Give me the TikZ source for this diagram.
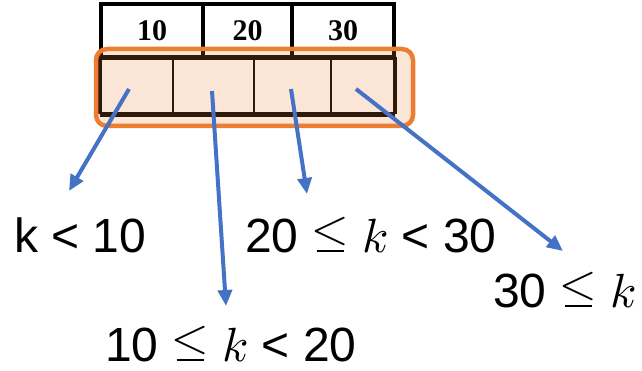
\documentclass[tikz,border=0pt]{standalone}
\usepackage{fontspec}
\usepackage{unicode-math}
\setmainfont{Liberation Sans}
\setmathfont{Latin Modern Math}
\newfontfamily\serifbold{Liberation Serif}
\usetikzlibrary{arrows.meta}
\definecolor{orng}{HTML}{ED7D31}
\definecolor{blu}{HTML}{4472C4}
\newcommand{\myle}{\mbox{\sbox0{$<$}\raisebox{0.17em}{\usebox0}\kern-\wd0\kern0.1em\rule{\dimexpr\wd0-0.2em\relax}{0.045em}\kern0.1em}}
\newcommand{\kk}{\ensuremath{k}}
\tikzset{
  topcell/.style={draw=black, line width=4.5pt, minimum height=54pt, inner sep=0pt, font=\serifbold\bfseries\fontsize{30}{30}\selectfont},
  botcell/.style={draw=black, line width=2.5pt, minimum height=55pt, inner sep=0pt},
  rng/.style={draw=orng, line width=4.5pt, rounded corners=11pt, fill=orng, fill opacity=0.2, draw opacity=1},
  ptr/.style={draw=blu, line width=4pt, -{Triangle[length=16pt,width=14pt]}},
  lbl/.style={font=\fontsize{48}{48}\selectfont, inner sep=0pt, anchor=base west}
}
\begin{document}
\begin{tikzpicture}[x=1pt,y=-1pt]
\useasboundingbox (0,0) rectangle (642,371);
% top row
\node[topcell, minimum width=102pt] (t1) at (152,31) {10};
\node[topcell, minimum width=89pt] (t2) at (247.5,31) {20};
\node[topcell, minimum width=102pt] (t3) at (343,31) {30};
% bottom row
\node[botcell, minimum width=72pt] (b1) at (137,85.5) {};
\node[botcell, minimum width=81pt] (b2) at (213.5,85.5) {};
\node[botcell, minimum width=77pt] (b3) at (292.5,85.5) {};
\node[botcell, minimum width=63pt] (b4) at (362.5,85.5) {};
\draw[line width=4pt] (b1.north west) -- (b4.north east);
\draw[line width=5pt] (b1.south west) -- (b4.south east);
\draw[line width=4pt] (b1.north west) -- (b1.south west);
\draw[line width=4pt] (b4.north east) -- (b4.south east);
% orange range box
\node[rng, minimum width=317pt, minimum height=77pt] (box) at (254.5,87.5) {};
% labels
\node[lbl] (l1) at (14,252) {k < 10};
\node[lbl] (l2) at (105,361) {10 \myle{} \kk{} < 20};
\node[lbl] (l3) at (245,252) {20 \myle{} \kk{} < 30};
\node[lbl] (l4) at (493,307) {30 \myle{} \kk};
% arrows
\coordinate (s1) at (129,89);
\coordinate (e1) at (69,191);
\coordinate (s2) at (212,91);
\coordinate (e2) at (226,306);
\coordinate (s3) at (291,89);
\coordinate (e3) at (307,194);
\coordinate (s4) at (356,89);
\coordinate (e4) at (563,251);
\draw[ptr] (s1) -- (e1);
\draw[ptr] (s2) -- (e2);
\draw[ptr] (s3) -- (e3);
\draw[ptr] (s4) -- (e4);
\end{tikzpicture}
\end{document}
